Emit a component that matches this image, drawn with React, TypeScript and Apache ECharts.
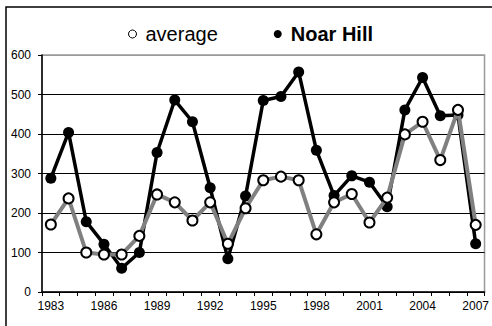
import React, { useEffect, useRef } from "react";
import * as echarts from "echarts";

const years = [
  "1983", "1984", "1985", "1986", "1987", "1988", "1989", "1990", "1991", "1992",
  "1993", "1994", "1995", "1996", "1997", "1998", "1999", "2000", "2001", "2002",
  "2003", "2004", "2005", "2006", "2007",
];
const average = [
  171, 237, 100, 95, 95, 142, 247, 227, 181, 227,
  122, 212, 283, 292, 283, 146, 227, 248, 176, 239,
  399, 431, 334, 461, 170,
];
const noarHill = [
  288, 404, 178, 121, 60, 100, 353, 486, 431, 264,
  84, 243, 485, 495, 557, 359, 244, 294, 278, 216,
  461, 543, 446, 448, 122,
];
const yTicks = { min: 0, max: 600, interval: 100 };

const FONT = "'Liberation Sans', Arial, sans-serif";

export default function App() {
  const ref = useRef<HTMLDivElement>(null);
  useEffect(() => {
    if (!ref.current) return;
    const chart = echarts.init(ref.current, null, { renderer: "svg" });
    chart.setOption({
      animation: false,
      backgroundColor: "#fff",
      textStyle: { fontFamily: FONT },
      graphic: [
        {
          type: "rect",
          shape: { x: 6, y: 7, width: 500, height: 340 },
          style: { fill: "none", stroke: "#000", lineWidth: 1.5 },
          silent: true,
          z: 100,
        },
      ],
      legend: {
        left: 123,
        top: 19,
        itemWidth: 16,
        itemHeight: 8,
        itemGap: 56,
        textStyle: { fontSize: 20, color: "#000", fontFamily: FONT },
        data: [
          {
            name: "average",
            icon: "circle",
            itemStyle: { color: "#fff", borderColor: "#000", borderWidth: 1 },
          },
          {
            name: "Noar Hill",
            icon: "circle",
            itemStyle: { color: "#000", borderWidth: 0 },
            textStyle: { fontWeight: "bold", fontSize: 20, color: "#000" },
          },
        ],
      },
      grid: {
        left: 42,
        right: 6,
        top: 55,
        bottom: 34,
        show: true,
        borderColor: "#999",
        borderWidth: 1.5,
        backgroundColor: "transparent",
      },
      xAxis: {
        type: "category",
        data: years,
        boundaryGap: true,
        axisLine: { show: true, lineStyle: { color: "#000", width: 1.5 } },
        axisTick: { show: true, interval: 0, length: 4, lineStyle: { color: "#000", width: 1 } },
        axisLabel: { interval: 2, fontSize: 12, color: "#000", margin: 8, fontFamily: FONT },
        splitLine: { show: false },
      },
      yAxis: {
        type: "value",
        min: yTicks.min,
        max: yTicks.max,
        interval: yTicks.interval,
        axisLine: { show: true, lineStyle: { color: "#000", width: 1.5 } },
        axisTick: { show: true, length: 4, lineStyle: { color: "#000", width: 1 } },
        axisLabel: { fontSize: 12, color: "#000", margin: 11, fontFamily: FONT },
        splitLine: {
          show: true,
          lineStyle: {
            color: ["#000", "#000", "#000", "#000", "#000", "#000", "#999"],
            width: 1,
          },
        },
      },
      series: [
        {
          name: "Noar Hill",
          type: "line",
          data: noarHill,
          symbol: "circle",
          symbolSize: 11,
          lineStyle: { color: "#000", width: 3.5 },
          itemStyle: { color: "#000", borderColor: "#000", borderWidth: 0 },
          z: 2,
        },
        {
          name: "average",
          type: "line",
          data: average,
          symbol: "circle",
          symbolSize: 10,
          lineStyle: { color: "#808080", width: 4 },
          itemStyle: { color: "#fff", borderColor: "#000", borderWidth: 2 },
          z: 3,
        },
      ],
    });
    return () => chart.dispose();
  }, []);
  return (
    <div
      ref={ref}
      style={{ position: "fixed", left: 0, top: 0, width: 492, height: 326 }}
    />
  );
}
